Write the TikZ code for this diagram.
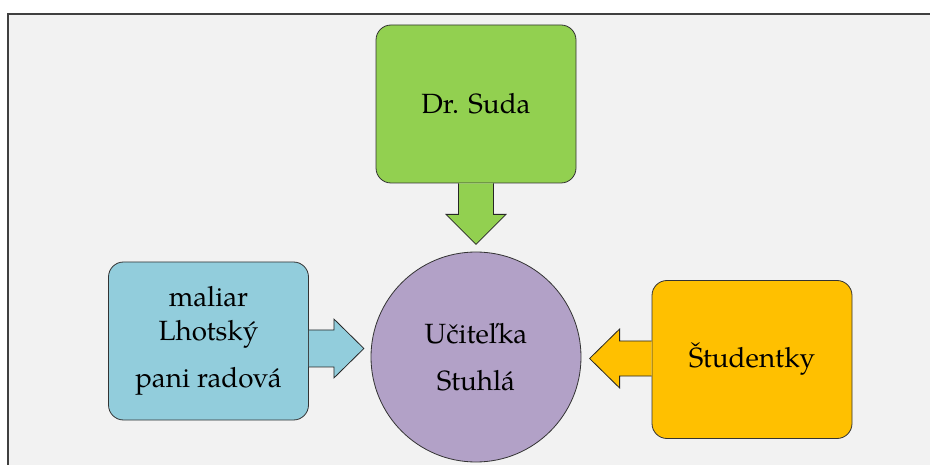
\documentclass[tikz,border=0pt]{standalone}
\usepackage{fontspec}
\setmainfont{TeX Gyre Pagella}
\usetikzlibrary{calc}

\definecolor{panelbg}{HTML}{F2F2F2}
\definecolor{sudagreen}{HTML}{92D050}
\definecolor{paintblue}{HTML}{92CDDC}
\definecolor{studorange}{HTML}{FFC000}
\definecolor{teachpurple}{HTML}{B2A1C7}

\tikzset{
  box/.style={rounded corners=15pt, draw=black!80, line width=0.8pt,
    minimum width=200pt, minimum height=158pt, align=center,
    font=\fontsize{27.8}{34}\selectfont},
  teacher/.style={circle, draw=black!80, line width=0.8pt, minimum size=210pt,
    align=center, font=\fontsize{27.8}{34}\selectfont},
  blockarrow/.style={draw=black!85, line width=0.8pt, line join=miter}
}

\begin{document}
\begin{tikzpicture}[x=1pt,y=-1pt]
  \useasboundingbox (0,0) rectangle (930,465);
  % page and framed panel
  \fill[white] (0,0) rectangle (930,465);
  \fill[panelbg] (8,14) rectangle (930,465);
  \draw[line width=1.2pt, black!75] (8,465) -- (8,14) -- (930,14);

  % people
  \node[box, fill=sudagreen] (suda) at (476,104) {Dr. Suda};
  \node[box, fill=paintblue] (maliar) at (208.5,341)
    {maliar\\Lhotský\\[13pt]pani radová};
  \node[box, fill=studorange] (stud) at (752,359.5) {Študentky};
  \node[teacher, fill=teachpurple] (ucitel) at (476,357)
    {Učiteľka\\[13pt]Stuhlá};

  % block arrows pointing at the teacher
  \filldraw[blockarrow, fill=sudagreen]
    ($(suda.south)+(-17.5,0)$) -- ++(0,31) -- ++(-12.5,0) -- ++(30,30)
    -- ++(30,-30) -- ++(-12.5,0) -- ++(0,-31);
  \filldraw[blockarrow, fill=paintblue]
    ($(maliar.east)+(0,-11)$) -- ++(25,0) -- ++(0,-11) -- ++(30,29.5)
    -- ++(-30,29.5) -- ++(0,-11) -- ++(-25,0);
  \filldraw[blockarrow, fill=studorange]
    ($(stud.west)+(0,-18.5)$) -- ++(-32,0) -- ++(0,-12) -- ++(-30,29.5)
    -- ++(30,29.5) -- ++(0,-12) -- ++(32,0);
\end{tikzpicture}
\end{document}
